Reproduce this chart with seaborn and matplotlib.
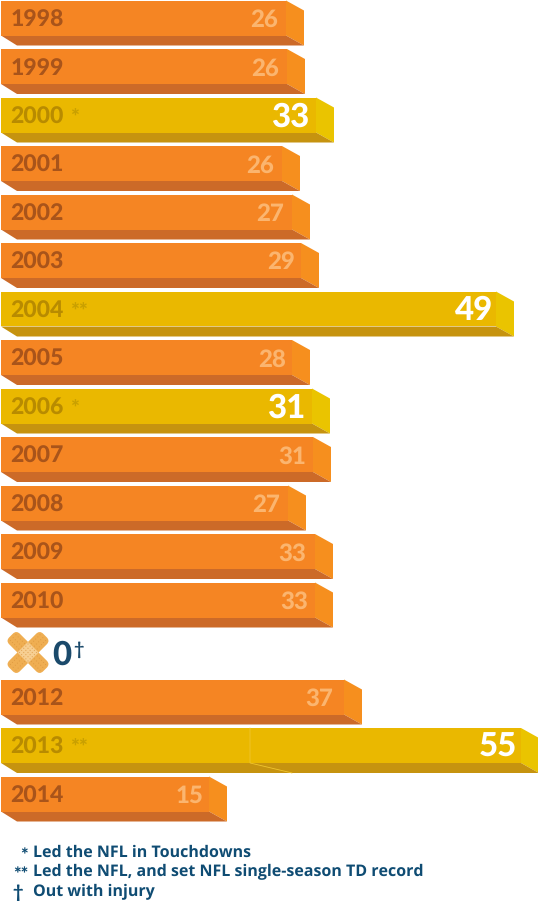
import matplotlib
matplotlib.use("Agg")
import matplotlib.pyplot as plt
from matplotlib.patches import Polygon, FancyBboxPatch, Rectangle
from matplotlib.transforms import Affine2D
import seaborn as sns
import pandas as pd

years = ["1998","1999","2000","2001","2002","2003","2004","2005","2006","2007","2008","2009","2010","2011","2012","2013","2014"]
touchdowns = [26,26,33,26,27,29,49,28,31,31,27,33,33,0,37,55,15]
bar_lengths = [285,286,315,281,291,300,495,291,311,312,287,314,314,0,343,520,208]
marks = ["","","*","","","","**","","*","","","","","†","","**",""]
legend_marks = ["*","**","†"]
legend_texts = ["Led the NFL in Touchdowns","Led the NFL, and set NFL single-season TD record","Out with injury"]

ROW = 48.5
DX, DY = 18, 10
C = {False: dict(face="#F58523", side="#F68F1E", bottom="#CC6A28", year="#A9541A", val="#FBB56F", mark="#C87A2A"),
     True: dict(face="#EAB800", side="#EAC400", bottom="#C6930F", year="#B88B00", val="#FFFFFF", mark="#C9A000")}
label_gap = {"1998": 8, "1999": 8, "2000": 7, "2001": 8, "2002": 8, "2003": 6, "2004": 3, "2005": 6,
             "2006": 7, "2007": 7, "2008": 8, "2009": 9, "2010": 7, "2012": 11, "2013": 4, "2014": 6}

sns.set_theme(style="white")
plt.rcParams["font.family"] = ["Lato", "DejaVu Sans"]
plt.rcParams["text.hinting"] = "no_hinting"
plt.rcParams["text.hinting_factor"] = 1
fig = plt.figure(figsize=(5.38, 9.01), dpi=100)
ax = fig.add_axes([0, 0, 1, 1])

df = pd.DataFrame(dict(year=years, length=bar_lengths,
                       led=[m.startswith("*") for m in marks]))
sns.barplot(data=df, y="year", x="length", hue="led", dodge=False, width=35/ROW,
            palette={False: C[False]["face"], True: C[True]["face"]}, legend=False,
            saturation=1, ax=ax, zorder=3, linewidth=0, edgecolor="none")
ax.set_xlim(-1, 537)
ax.set_ylim((901-18)/ROW, -18/ROW)
ax.axis("off")

dy = DY/ROW
for p in ax.patches:
    w = p.get_width()
    if w <= 0:
        continue
    top = p.get_y(); bot = top + p.get_height()
    row = int(round(top + p.get_height()/2))
    c = C[df.led[row]]
    ax.add_patch(Polygon([(w, top), (w+DX, top+dy), (w+DX, bot+dy), (w, bot)],
                         fc=c["side"], ec="none", zorder=2))
    ax.add_patch(Polygon([(0, bot), (16, bot+dy), (w+DX, bot+dy), (w, bot)],
                         fc=c["bottom"], ec="none", zorder=2))
    ax.text(9.5, row+0.04, years[row], color=c["year"], fontsize=16.7, fontweight="black",
            va="center", ha="left", zorder=5)
    if marks[row]:
        ax.text(69, row+0.07, marks[row], color=c["mark"], fontsize=15, fontweight="black",
                va="center", ha="left", zorder=5)
    big = df.led[row]
    ax.text(w-label_gap[years[row]], row+0.04, str(touchdowns[row]), color=c["val"],
            fontsize=24 if big else 17.5, fontweight="black", va="center", ha="right", zorder=5)

# seam in the 2013 bar
r = years.index("2013")
ax.plot([249, 249, 291], [r-0.36, r+0.36, r+0.36+dy], color="#F0C52E", lw=0.6, zorder=6)

# overlay in pixel coordinates for the injury row and the notes
ov = fig.add_axes([0, 0, 1, 1], facecolor="none")
ov.set_xlim(0, 538); ov.set_ylim(901, 0); ov.axis("off")

cx, cy = 28, 652.5
for ang in (45, -45):
    tr = Affine2D().rotate_deg(ang).translate(cx, cy) + ov.transData
    ov.add_patch(FancyBboxPatch((-24, -7.5), 48, 15, boxstyle="round,pad=0,rounding_size=5",
                                fc="#EFAE52", ec="none", transform=tr))
    for i in range(-7, 8):
        if abs(i) < 3:
            continue
        for j in (-1, 0, 1):
            ov.add_patch(Rectangle((i*3-0.4, j*4-0.4), 0.8, 0.8, fc="#D8923A", ec="none", transform=tr))
tr = Affine2D().rotate_deg(45).translate(cx, cy) + ov.transData
ov.add_patch(Rectangle((-7.5, -7.5), 15, 15, fc="#F7CF92", ec="none", transform=tr))
for i in range(-2, 3):
    for j in range(-2, 3):
        ov.add_patch(Rectangle((i*3-0.5, j*3-0.5), 1, 1, fc="#E0A050", ec="none", transform=tr))
ov.text(52, 655, "0", color="#1B4A6B", fontsize=24, fontweight="black", va="center", ha="left")
ov.text(73, 650, "†", color="#1B4A6B", fontsize=13, fontweight="bold", va="center", ha="left")

for mk, t, y in zip(legend_marks, legend_texts, [853, 872, 892]):
    ov.text(23 if mk == "†" else 28, y + (3 if mk != "†" else 1), mk, color="#0F4C73",
            fontsize=13, fontweight="black", va="center", ha="right")
    ov.text(33, y, t, color="#0F4C73", fontsize=11.2, fontweight="bold", va="center", ha="left",
            family=["Open Sans", "DejaVu Sans"])

fig.savefig("out.png", dpi=100)
